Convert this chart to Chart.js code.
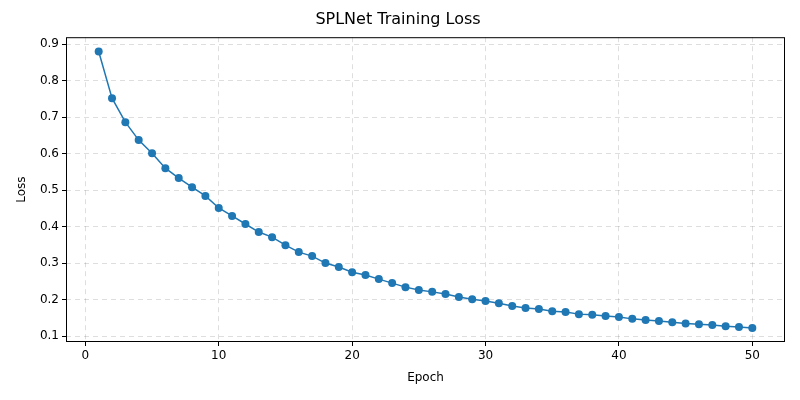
<!DOCTYPE html>
<html>
<head>
<meta charset="utf-8">
<script src="https://cdn.jsdelivr.net/npm/chart.js@4/dist/chart.umd.min.js"></script>
<style>
  html, body { margin: 0; padding: 0; background: #fff; }
  #wrap { width: 800px; height: 400px; }
</style>
</head>
<body>
<div id="wrap"><canvas id="lossChart"></canvas></div>
<script>
// values
const epochs = Array.from({ length: 50 }, (_, i) => i + 1);
const loss = [
  0.880, 0.752, 0.686, 0.637, 0.601, 0.560, 0.533, 0.508, 0.484, 0.451,
  0.429, 0.407, 0.385, 0.371, 0.349, 0.330, 0.319, 0.300, 0.289, 0.275,
  0.267, 0.256, 0.245, 0.234, 0.226, 0.221, 0.215, 0.207, 0.201, 0.196,
  0.190, 0.182, 0.177, 0.174, 0.168, 0.166, 0.160, 0.158, 0.155, 0.152,
  0.147, 0.144, 0.141, 0.138, 0.134, 0.132, 0.130, 0.127, 0.125, 0.122
];
const xTicks = [0, 10, 20, 30, 40, 50];
const yTicks = [0.1, 0.2, 0.3, 0.4, 0.5, 0.6, 0.7, 0.8, 0.9];

const lineColor = '#1f77b4';
const font = "'DejaVu Sans', sans-serif";

// black frame around the plot area
const frame = {
    id: 'frame',
    afterDraw(chart) {
        const a = chart.chartArea;
        const c = chart.ctx;
        c.save();
        c.strokeStyle = '#000';
        c.lineWidth = 1;
        c.strokeRect(a.left + 0.5, a.top + 0.5, a.right - a.left - 1, a.bottom - a.top - 1);
        c.restore();
    }
};

const grid = {
    color: 'rgba(0,0,0,0.13)',
    tickColor: '#000',
    tickLength: 4,
    drawTicks: true
};

new Chart(document.getElementById('lossChart'), {
    type: 'line',
    data: {
        datasets: [{
            data: epochs.map((e, i) => ({ x: e, y: loss[i] })),
            borderColor: lineColor,
            backgroundColor: lineColor,
            borderWidth: 1.5,
            pointRadius: 4,
            pointBorderWidth: 0,
            tension: 0
        }]
    },
    options: {
        responsive: true,
        maintainAspectRatio: false,
        animation: false,
        layout: { padding: { left: 11, right: 15, top: 0, bottom: 11 } },
        plugins: {
            legend: { display: false },
            tooltip: { enabled: false },
            title: {
                display: true,
                text: 'SPLNet Training Loss',
                color: '#000',
                font: { family: font, size: 16, weight: 'normal' },
                padding: { top: 10, bottom: 8 }
            }
        },
        scales: {
            x: {
                type: 'linear',
                min: -1.45,
                max: 52.45,
                afterBuildTicks: s => { s.ticks = xTicks.map(v => ({ value: v })); },
                afterFit: s => { s.height = 47; },
                grid: grid,
                border: { display: false, dash: [5, 4] },
                ticks: { color: '#000', font: { family: font, size: 12 }, padding: 3 },
                title: { display: true, text: 'Epoch', color: '#000', font: { family: font, size: 12 }, padding: { top: 4 } }
            },
            y: {
                min: 0.0836,
                max: 0.919,
                afterBuildTicks: s => { s.ticks = yTicks.map(v => ({ value: v })); },
                afterFit: s => { s.width = 55; },
                grid: grid,
                border: { display: false, dash: [5, 4] },
                ticks: { color: '#000', font: { family: font, size: 12 }, padding: 3, callback: v => v.toFixed(1) },
                title: { display: true, text: 'Loss', color: '#000', font: { family: font, size: 12 }, padding: { bottom: 2 } }
            }
        }
    },
    plugins: [frame]
});
</script>
</body>
</html>
